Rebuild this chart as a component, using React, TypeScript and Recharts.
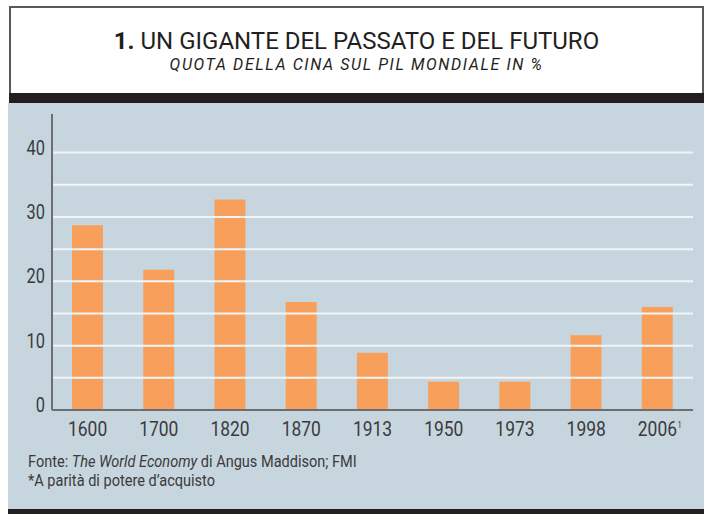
import React from 'react';
import { BarChart, Bar, XAxis, YAxis, ReferenceLine } from 'recharts';

const years = ['1600', '1700', '1820', '1870', '1913', '1950', '1973', '1998', '2006'];
const shares = [28.7, 21.8, 32.7, 16.8, 8.9, 4.4, 4.4, 11.6, 16.0];
const yTicks = [0, 10, 20, 30, 40];
const gridValues = [5, 10, 15, 20, 25, 30, 35, 40];
const footnoteYears = ['2006'];

const data = years.map((y, i) => ({ year: y, share: shares[i] }));

const FONT = 'Roboto, "DejaVu Sans Condensed", Arial, sans-serif';
const INK = '#231f20';
const TICK_INK = '#3a3a3c';

const YTick = ({ x, y, payload }: any) => (
  <text
    transform={`translate(${x - 7},${y + 2}) scale(0.82,1)`}
    textAnchor="end"
    fontFamily={FONT}
    fontSize={20}
    fill={TICK_INK}
  >
    {payload.value}
  </text>
);

const XTick = ({ x, y, payload }: any) => (
  <g>
    <text
      transform={`translate(${x},${y + 26}) scale(0.83,1)`}
      textAnchor="middle"
      fontFamily={FONT}
      fontSize={21}
      fill={TICK_INK}
    >
      {payload.value}
    </text>
    {footnoteYears.includes(payload.value) && (
      <text transform={`translate(${x + 20},${y + 18}) scale(0.83,1)`} fontFamily={FONT} fontSize={9} fill={TICK_INK}>
        1
      </text>
    )}
  </g>
);

const squeezed = (scale: number, origin: string): React.CSSProperties => ({
  display: 'inline-block',
  transform: `scaleX(${scale})`,
  transformOrigin: origin,
  whiteSpace: 'nowrap',
});

export default function App() {
  return (
    <div style={{ position: 'absolute', left: 0, top: 0, width: 706, height: 514, background: '#fff', fontFamily: FONT }}>
      {/* title box */}
      <div
        style={{
          position: 'absolute', left: 9, top: 6, width: 691, height: 85,
          border: '2px solid #58595b', borderBottom: 'none', background: '#fff', textAlign: 'center', color: INK,
        }}
      >
        <div style={{ marginTop: 21, fontSize: 24, lineHeight: '24px', whiteSpace: 'nowrap' }}>
          <b>1.</b> UN GIGANTE DEL PASSATO E DEL FUTURO
        </div>
        <div style={{ marginTop: 3, fontSize: 16, fontStyle: 'italic', lineHeight: '18px', letterSpacing: 1.6 }}>
          QUOTA DELLA CINA SUL PIL MONDIALE IN %
        </div>
      </div>
      <div style={{ position: 'absolute', left: 9, top: 93, width: 695, height: 10, background: INK }} />
      <div style={{ position: 'absolute', left: 8, top: 103, width: 696, height: 406, background: '#c7d6de' }} />
      <div style={{ position: 'absolute', left: 8, top: 509, width: 696, height: 5, background: INK }} />

      <div style={{ position: 'absolute', left: 0, top: 103 }}>
        <BarChart width={706} height={340} data={data} margin={{ top: 11, right: 13, left: 0, bottom: 3 }} barSize={31}>
          <XAxis
            dataKey="year"
            height={30}
            tickLine={false}
            tickSize={0}
            tickMargin={0}
            axisLine={{ stroke: '#6d6e70', strokeWidth: 2 }}
            tick={<XTick />}
            interval={0}
          />
          <YAxis
            width={52}
            domain={[0, 46]}
            ticks={yTicks}
            tickLine={false}
            tickSize={0}
            tickMargin={0}
            axisLine={{ stroke: '#6d6e70', strokeWidth: 2 }}
            tick={<YTick />}
          />
          <Bar dataKey="share" fill="#f79f5b" isAnimationActive={false} />
          {gridValues.map((v) => (
            <ReferenceLine key={v} y={v} stroke="#f1f5f6" strokeWidth={2} />
          ))}
        </BarChart>
      </div>

      <div style={{ position: 'absolute', left: 28, top: 452, fontSize: 17, lineHeight: '19px', color: TICK_INK }}>
        <div>
          <span style={squeezed(0.855, 'left')}>
            Fonte: <i>The World Economy</i> di Angus Maddison; FMI
          </span>
        </div>
        <div>
          <span style={squeezed(0.855, 'left')}>*A parità di potere d’acquisto</span>
        </div>
      </div>
    </div>
  );
}
